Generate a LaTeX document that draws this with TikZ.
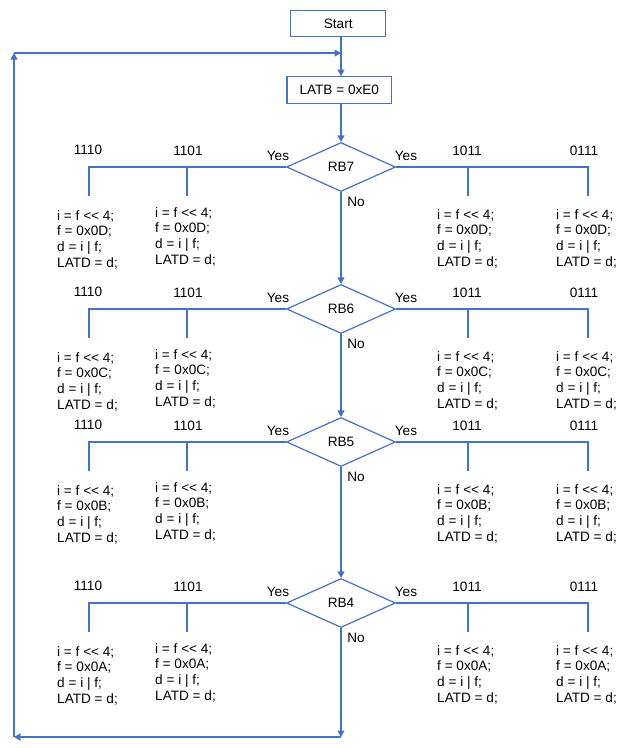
\documentclass[tikz,border=0pt]{standalone}
\usepackage{fontspec}
\setmainfont{Liberation Sans}
\usetikzlibrary{shapes.geometric,arrows.meta}
\definecolor{flow}{HTML}{4472C4}
\tikzset{
  every node/.style={font=\fontsize{13.6}{15.7}\selectfont, text=black},
  line/.style={draw=flow, line width=1.2pt},
  arr/.style={line, -{Triangle[length=6.5pt,width=7pt]}},
  boxnode/.style={draw=flow, line width=1.2pt, rectangle, inner sep=0pt},
  decision/.style={diamond, draw=flow, line width=1.2pt, inner sep=0pt, minimum width=109pt, minimum height=49pt},
  code/.style={align=left, anchor=north west, inner sep=0pt},
  lbl/.style={inner sep=0pt}
}
\begin{document}
\begin{tikzpicture}[x=1pt,y=-1pt]
\useasboundingbox (0,0) rectangle (644,748);
\node[boxnode, minimum width=95pt, minimum height=26pt] (start) at (338.2,23.7) {Start};
\node[boxnode, minimum width=104.7pt, minimum height=26.6pt] (latb) at (339.3,90) {LATB = 0xE0};
\coordinate (top) at (341,53);
\coordinate (topl) at (14,53);
\coordinate (botl) at (14,737);
\coordinate (bot) at (341,737);
\draw[arr] (start.south -| top) -- (latb.north -| top);
\foreach \n/\y/\h in {7/167/D, 6/309/C, 5/442/B, 4/603/A}{
  \node[decision] (rb\n) at (341,\y) {RB\n};
  \node[lbl] (la\n) at (88,\y-17) {1110};
  \node[lbl] (lb\n) at (188,\y-16) {1101};
  \node[lbl] (lc\n) at (467,\y-16) {1011};
  \node[lbl] (ld\n) at (584,\y-16) {0111};
  \node[lbl] (yl\n) at (278,\y-11) {Yes};
  \node[lbl] (yr\n) at (406,\y-11) {Yes};
  \node[lbl] (no\n) at (356,\y+35) {No};
  \coordinate (ja\n) at (89,\y);  \coordinate (ea\n) at (89,\y+29);
  \coordinate (jb\n) at (187,\y); \coordinate (eb\n) at (187,\y+29);
  \coordinate (jc\n) at (468,\y); \coordinate (ec\n) at (468,\y+29);
  \coordinate (jd\n) at (588,\y); \coordinate (ed\n) at (588,\y+29);
  \draw[line] (rb\n.west) -- (ja\n) -- (ea\n);
  \draw[line] (jb\n) -- (eb\n);
  \draw[line] (rb\n.east) -- (jd\n) -- (ed\n);
  \draw[line] (jc\n) -- (ec\n);
  \node[code] (ca\n) at (57,\y+43) {i = f <\kern0pt< 4;\\ f = 0x0\h;\\ d = i | f;\\ LATD = d;};
  \node[code] (cb\n) at (155,\y+40) {i = f <\kern0pt< 4;\\ f = 0x0\h;\\ d = i | f;\\ LATD = d;};
  \node[code] (cc\n) at (437,\y+42) {i = f <\kern0pt< 4;\\ f = 0x0\h;\\ d = i | f;\\ LATD = d;};
  \node[code] (cd\n) at (556,\y+42) {i = f <\kern0pt< 4;\\ f = 0x0\h;\\ d = i | f;\\ LATD = d;};
}
\draw[arr] (latb.south -| top) -- (rb7.north);
\draw[arr] (rb7.south) -- (rb6.north);
\draw[arr] (rb6.south) -- (rb5.north);
\draw[arr] (rb5.south) -- (rb4.north);
\draw[arr] (rb4.south) -- (bot);
\draw[arr] (bot) -- (botl);
\draw[arr] (botl) -- (topl);
\draw[arr] (topl) -- (top);
\end{tikzpicture}
\end{document}
